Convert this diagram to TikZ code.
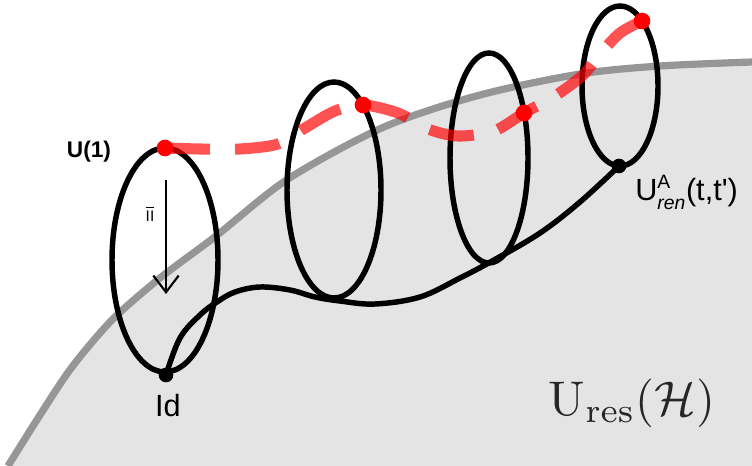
\documentclass[tikz,border=0pt]{standalone}
\usepackage{fontspec}
\newfontfamily\arial{Liberation Sans}
\usetikzlibrary{arrows.meta}
\definecolor{regionfill}{RGB}{228,228,228}
\definecolor{regionline}{RGB}{150,150,150}
\begin{document}
\begin{tikzpicture}[x=0.75pt,y=-0.75pt,
  loopline/.style={line width=4.1pt, black, line cap=round},
  redpath/.style={line width=8.3pt, red, opacity=0.68, dash pattern=on 33.75pt off 18.75pt},
  reddot/.style={circle, fill=red, inner sep=0pt, minimum size=12.5pt},
  blackdot/.style={circle, fill=black, inner sep=0pt, minimum size=11pt},
  lbl/.style={inner sep=0pt}]
\useasboundingbox (0,0) rectangle (752,466);
% region
\fill[regionfill] plot[smooth] coordinates {(8,466) (40,415) (72,367) (112,320) (160,278) (216,236) (288,179) (384,127) (480,95) (580,74) (660,66) (752,62)} -- (752,466) -- cycle;
\draw[regionline, line width=5.4pt] plot[smooth] coordinates {(8,466) (40,415) (72,367) (112,320) (160,278) (216,236) (288,179) (384,127) (480,95) (580,74) (660,66) (752,62)};
% named points
\coordinate (u1) at (165,148);
\coordinate (id) at (166,375);
\coordinate (uren) at (619,166);
\coordinate (r2) at (363,105);
\coordinate (r3) at (524,113);
\coordinate (r4) at (642,21);
\coordinate (arrtop) at (166,180);
\coordinate (arrbot) at (166,294);
% loops
\draw[loopline] (165,260) ellipse [x radius=53, y radius=112];
\draw[loopline] (334,190) ellipse [x radius=47, y radius=108];
\draw[loopline] (489,158) ellipse [x radius=39, y radius=105];
\draw[loopline] (620,86) ellipse [x radius=38, y radius=80];
% path from Id to U_ren
\draw[loopline] plot[smooth, tension=0.6] coordinates {(id) (180,338) (200,315) (217,302) (235,292) (260,287) (290,290) (315,297) (340,301) (375,304) (420,297) (460,278) (494,260) (540,233) (580,202) (uren)};
% arrow
\draw[line width=1.6pt, -{Straight Barb[length=12.5pt, width=19pt]}] (arrtop) -- (arrbot);
\node[lbl, font=\arial\fontsize{11.5}{12}\selectfont] (lpi) at (150,214) {$\overline{\hbox{II}\rule{0pt}{9.6pt}}$};
% red dashed curve
\draw[redpath] plot[smooth] coordinates {(u1) (200,149) (240,149) (278,144) (305,128) (335,111) (r2) (398,113) (428,129) (458,136) (494,131) (r3) (555,96) (583,75) (600,54) (620,33) (r4)};
% dots
\node[reddot] (du1) at (u1) {};
\node[reddot] (dr2) at (r2) {};
\node[reddot] (dr3) at (r3) {};
\node[reddot] (dr4) at (r4) {};
\node[blackdot] (did) at (id) {};
\node[blackdot] (duren) at (uren) {};
% labels
\node[lbl, font=\arial\bfseries\fontsize{17}{18}\selectfont] (lu1) at (89,152) {U(1)};
\node[lbl, font=\arial\fontsize{23}{25}\selectfont] (lid) at (168,406) {Id};
\node[lbl, anchor=base west, font=\arial\fontsize{23}{24}\selectfont] (lren) at (635,201) {$\hbox{U}^{\hbox{\fontsize{14.5}{15}\selectfont A}}_{\hbox{\fontsize{14.5}{15}\selectfont\itshape ren}}\hbox{(t,t')}$};
\node[lbl, anchor=base west, scale=3.65, text=black!85] (lres) at (548,415) {$\mathrm{U}_{\mathrm{res}}(\mathcal{H})$};
\end{tikzpicture}
\end{document}
